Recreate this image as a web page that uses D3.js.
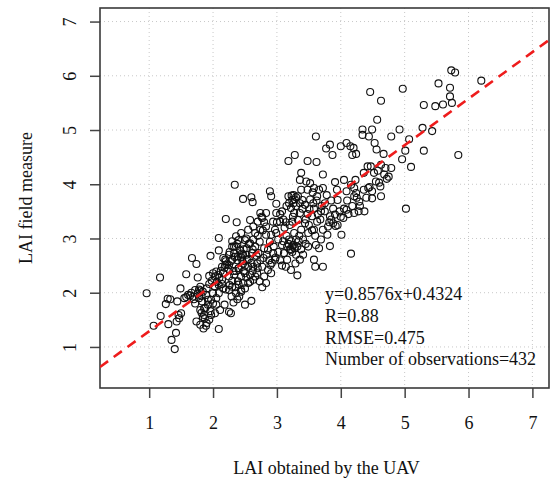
<!DOCTYPE html>
<html><head><meta charset="utf-8">
<script src="https://cdn.jsdelivr.net/npm/d3@7"></script>
<style>body{margin:0;background:#fff}svg{display:block}</style>
</head><body>
<svg id="c" width="557" height="479"></svg>
<script>
const xTicks = [1,2,3,4,5,6,7];
const yTicks = [1,2,3,4,5,6,7];
const xTitle = "LAI obtained by the UAV";
const yTitle = "LAI field measure";
const fitSlope = 0.8576, fitIntercept = 0.4324;
const statsLines = ["y=0.8576x+0.4324","R=0.88","RMSE=0.475","Number of observations=432"];
// [UAV LAI, field LAI]
const observations = [
[0.96,1.99],[1.07,1.39],[1.17,2.28],[1.18,1.57],[1.26,1.79],[1.29,1.89],[1.33,1.88],[1.30,1.42],[1.35,1.13],[1.40,0.96],
[1.42,1.26],[1.44,1.84],[1.46,1.59],[1.50,1.62],[1.47,1.53],[1.43,1.47],[1.49,2.08],[1.58,2.34],[1.67,2.64],[1.74,2.53],
[1.76,2.28],[1.74,1.47],[1.80,2.04],[1.89,1.96],[1.87,1.53],[1.89,1.39],[1.94,2.31],[1.96,2.68],[2.09,1.33],[2.09,3.01],
[2.09,2.78],[2.20,3.36],[2.34,3.99],[2.37,3.30],[2.47,3.73],[2.60,3.76],[2.62,3.67],[2.50,1.78],[2.60,1.85],[2.77,2.10],
[2.89,3.87],[2.91,3.78],[2.99,3.64],[3.18,4.43],[3.28,4.54],[3.32,2.32],[3.48,4.43],[3.61,4.88],[3.62,4.41],[3.60,2.48],
[3.72,2.48],[3.72,4.18],[3.77,4.66],[3.83,4.73],[3.87,4.54],[3.91,4.04],[4.01,3.07],[4.16,2.72],[4.46,5.70],[4.63,5.54],
[4.57,5.19],[4.34,5.01],[4.49,5.01],[4.79,4.88],[4.92,5.01],[5.07,4.83],[4.96,4.46],[5.01,4.62],[5.10,4.32],[5.02,3.55],
[4.97,5.76],[5.30,5.46],[5.28,5.04],[5.30,4.62],[5.43,4.98],[5.48,5.44],[5.60,5.47],[5.53,5.86],[5.71,5.78],[5.71,5.62],
[5.73,6.10],[5.79,6.06],[5.74,5.50],[5.84,4.54],[6.20,5.91],
[4.63,3.78],[4.62,3.96],[4.49,3.74],[4.37,3.50],[4.63,4.36],[4.75,4.14],[4.79,4.30],[4.56,4.64],[4.67,4.56],[4.53,4.76],
[4.42,4.33],[4.36,4.21],[4.47,4.33],[4.52,4.21],[4.68,4.18],[4.36,3.90],[4.43,3.93],[4.60,4.03],[4.49,3.87],[4.23,4.08],
[4.05,4.08],[4.09,4.76],[4.15,4.70],[4.20,4.67],[4.24,4.56],[4.18,4.54],[4.00,4.70],[4.34,4.91],[4.44,4.88],[4.21,3.78],
[4.21,3.47],[4.29,3.68],[4.09,3.53],[4.04,3.38],[4.16,3.99],[4.21,3.93],[4.24,3.84],[4.09,3.87],[3.95,3.71],[3.94,3.90],
[3.98,3.50],[3.91,3.44],[3.83,3.41],[3.88,3.28],[3.80,3.22],[3.92,3.23],[3.85,3.35],[3.75,3.65],[3.69,3.50],[3.79,3.07],
[3.83,2.86],[3.66,2.82],[3.61,2.88],[3.58,2.61],[3.69,2.98],[3.72,3.16],[3.58,3.16],[3.63,3.31],[3.55,3.41],[3.51,3.54],
[3.57,3.65],[3.63,3.78],[3.72,3.93],[3.58,3.93],[3.48,3.90],[3.52,4.02],[3.46,4.05],[3.38,4.21],[3.36,4.08],[3.40,3.71],
[3.44,3.28],[3.38,3.16],[3.49,3.10],[3.41,2.98],[3.49,2.85],[3.41,2.70],[3.36,2.61],[3.29,2.54],[3.22,2.42],[3.14,2.48],
[3.16,2.61],[3.24,2.85],[3.30,2.98],[3.27,3.10],[3.19,2.98],[3.22,2.79],[3.11,2.73],[3.16,2.85],[3.08,2.88],[3.02,2.98],
[2.99,3.10],[3.05,3.31],[3.14,3.30],[3.24,3.31],[3.33,3.34],[3.36,3.47],[3.27,3.47],[3.22,3.56],[3.24,3.71],[3.18,3.78],
[3.23,3.79],[3.30,3.76],[3.26,3.65],[3.36,3.65],[3.19,3.65],[3.08,3.50],[2.99,3.47],[2.94,3.31],[2.97,3.16],[2.91,3.07],
[2.89,2.94],[2.86,2.79],[2.94,2.73],[2.97,2.61],[2.90,2.51],[2.86,2.42],[2.91,2.36],[2.80,2.30],[2.83,2.18],[2.73,2.21],
[2.69,2.36],[2.77,2.48],[2.69,2.54],[2.79,2.64],[2.71,2.73],[2.80,2.82],[2.73,2.94],[2.83,3.07],[2.74,3.16],[2.83,3.22],
[2.77,3.38],[2.74,3.47],[2.83,3.47],[2.70,3.31],[2.63,3.22],[2.58,3.34],[2.55,3.16],[2.63,2.98],[2.58,2.91],[2.66,2.85],
[2.61,2.73],[2.53,2.82],[2.50,2.97],[2.44,3.10],[2.40,2.97],[2.36,2.85],[2.33,2.73],[2.39,2.67],[2.30,2.61],[2.25,2.51],
[2.19,2.51],[2.20,2.58],[2.14,2.48],[2.16,2.36],[2.25,2.30],[2.33,2.33],[2.40,2.45],[2.47,2.54],[2.53,2.61],[2.47,2.70],
[2.55,2.48],[2.50,2.36],[2.58,2.33],[2.63,2.48],[2.63,2.24],[2.55,2.18],[2.47,2.18],[2.39,2.21],[2.30,2.11],[2.25,2.05],
[2.36,1.99],[2.44,2.05],[2.41,1.93],[2.29,1.93],[2.25,1.65],[2.28,1.62],[2.18,1.78],[2.11,1.68],[2.05,1.78],[2.03,1.62],
[2.05,1.90],[2.00,1.99],[2.09,1.99],[2.03,2.11],[1.97,1.87],[1.92,1.78],[1.86,1.71],[1.92,1.87],[1.83,1.84],[1.86,1.59],
[1.82,1.63],[1.97,1.59],[1.94,1.50],[2.03,2.30],[2.05,2.39],[2.00,2.36],[2.08,2.33],[2.14,2.24],[2.09,2.14],[2.16,2.08],
[2.19,2.61],[2.25,2.70],[2.16,2.64],[2.33,2.85],[2.36,3.04],[2.30,2.85],[1.80,2.11],[1.72,2.05],[1.78,1.90],[1.69,1.93],
[1.61,1.96],[1.55,1.90],[1.80,1.41],[1.85,1.34],
[2.42,2.78],[2.45,2.72],[2.48,2.80],[2.44,2.65],[2.52,2.70],[2.38,2.60],[2.46,2.58],[2.50,2.50],[2.56,2.62],[2.40,2.45],
[2.36,2.40],[2.60,2.55],[2.62,2.40],[2.48,2.40],[2.44,2.30],[2.52,2.28],[2.58,2.20],[2.66,2.30],[2.70,2.45],[2.74,2.60],
[2.68,2.68],[2.62,2.80],[2.56,2.90],[2.52,3.00],[2.66,3.10],[2.70,3.05],[2.78,3.15],[2.80,3.30],[2.76,3.40],[2.84,2.70],
[2.88,2.60],[2.92,2.55],[2.95,2.85],[2.98,2.65],[3.02,2.75],[3.05,2.60],[3.08,2.50],[3.10,2.95],[3.12,3.20],[3.15,3.05],
[3.18,2.90],[3.20,2.80],[3.24,2.75],[3.26,2.88],[3.28,2.82],[3.30,2.70],[3.32,2.85],[3.22,2.95],[3.34,2.95],[3.38,2.80],
[3.35,3.05],[3.45,2.90],[3.50,3.25],[3.55,3.15],[3.60,3.05],[3.64,3.45],[3.68,3.35],[3.70,3.60],[3.75,3.50],[3.78,3.80],
[3.85,3.70],[3.88,3.55],[3.82,3.30],[3.95,3.25],[4.00,3.40],[4.05,3.55],[4.10,3.70],[4.12,3.45],[4.18,3.60],[4.25,3.75],
[4.28,3.50],[4.30,3.60],[4.40,3.75],[4.45,3.95],[4.55,4.05],[4.58,4.25],[4.70,4.30],[4.72,4.10],
[2.18,2.46],[2.22,2.52],[2.24,2.44],[2.12,2.40],[2.10,2.28],[2.06,2.20],[2.02,2.12],[2.14,2.16],[2.20,2.06],[2.26,2.14],
[2.30,2.22],[2.32,2.40],[2.28,2.58],[2.34,2.66],[2.38,2.90],[2.30,2.95],[2.26,2.75],[2.35,2.10],[2.40,2.15],[2.44,2.02],
[2.50,2.08],[2.38,1.88],[2.32,1.82],
[1.64,1.95],[1.70,1.88],[1.76,1.98],[1.78,2.06],[1.82,1.94],[1.84,2.02],[1.90,2.08],[1.94,2.16],[1.98,2.22],[1.88,1.72],
[1.80,1.68],[1.84,1.55],[1.90,1.44],[1.96,1.66],[2.00,1.80],[1.72,1.80],[1.66,2.00],[1.58,1.92],
[3.40,3.55],[3.44,3.62],[3.48,3.45],[3.52,3.72],[3.56,3.85],[3.38,3.90],[3.30,3.60],[3.28,3.72],[3.26,3.80],[3.33,3.78],
[3.15,3.60],[3.05,3.45],[3.00,3.30],[3.10,3.35],[3.20,3.25],[3.25,3.40],[3.45,3.35],[3.58,3.55],[3.62,3.70],[3.66,3.90]
];

const svg = d3.select("#c");
const L = 100, R = 549, T = 8, B = 388;
const x = d3.scaleLinear().domain([0.23, 7.26]).range([L, R]);
const y = d3.scaleLinear().domain([0.243, 7.25]).range([B, T]);
const font = "'Liberation Serif','Times New Roman',serif";

// grid
const grid = svg.append("g").attr("stroke", "#c8c8c8").attr("stroke-width", 1).attr("stroke-dasharray", "1,3");
grid.selectAll("line.v").data(xTicks).join("line").attr("class","v")
  .attr("x1", d => x(d)).attr("x2", d => x(d)).attr("y1", T).attr("y2", B);
grid.selectAll("line.h").data(yTicks).join("line").attr("class","h")
  .attr("y1", d => y(d)).attr("y2", d => y(d)).attr("x1", L).attr("x2", R);

// axes
const xAxis = svg.append("g").attr("transform", `translate(0,${B})`)
  .call(d3.axisBottom(x).tickValues(xTicks).tickSize(10).tickPadding(22).tickFormat(d3.format("d")));
const yAxis = svg.append("g").attr("transform", `translate(${L},0)`)
  .call(d3.axisLeft(y).tickValues(yTicks).tickSize(10).tickFormat(d3.format("d")));
[xAxis, yAxis].forEach(g => {
  g.select(".domain").remove();
  g.selectAll(".tick line").attr("stroke", "#444").attr("stroke-width", 1.5);
  g.selectAll(".tick text").attr("font-family", font).attr("font-size", 18).attr("fill", "#111");
});
xAxis.selectAll(".tick text").attr("dy", null).attr("y", 41);
yAxis.selectAll(".tick text").attr("x", null).attr("dy", null)
  .attr("text-anchor", "middle").attr("transform", "translate(-24,0) rotate(-90)").attr("y", 0);

// box
svg.append("rect").attr("x", L).attr("y", T).attr("width", R - L).attr("height", B - T)
  .attr("fill", "none").attr("stroke", "#3a3a3a").attr("stroke-width", 1.6);

// points
svg.append("g").selectAll("circle").data(observations).join("circle")
  .attr("cx", d => x(d[0])).attr("cy", d => y(d[1])).attr("r", 3.5)
  .attr("fill", "none").attr("stroke", "#111").attr("stroke-width", 1.1);

// fit line
const xd = x.domain();
svg.append("defs").append("clipPath").attr("id","clip").append("rect")
  .attr("x", L).attr("y", T).attr("width", R - L).attr("height", B - T);
svg.append("line").attr("clip-path","url(#clip)")
  .attr("x1", x(xd[0])).attr("y1", y(fitSlope * xd[0] + fitIntercept))
  .attr("x2", x(xd[1])).attr("y2", y(fitSlope * xd[1] + fitIntercept))
  .attr("stroke", "#ee1c1c").attr("stroke-width", 2.6).attr("stroke-dasharray", "10,7");

// stats text
svg.append("g").selectAll("text").data(statsLines).join("text")
  .attr("x", 325).attr("y", (d, i) => 300 + i * 21.8)
  .attr("font-family", font).attr("font-size", 18).attr("fill", "#111").text(d => d);

// titles
svg.append("text").attr("x", (L + R) / 2 + 2).attr("y", 474).attr("text-anchor", "middle")
  .attr("font-family", font).attr("font-size", 18).attr("fill", "#111").text(xTitle);
svg.append("text").attr("transform", `translate(32,${(T + B) / 2}) rotate(-90)`).attr("text-anchor", "middle")
  .attr("font-family", font).attr("font-size", 18).attr("fill", "#111").text(yTitle);
</script>
</body></html>
